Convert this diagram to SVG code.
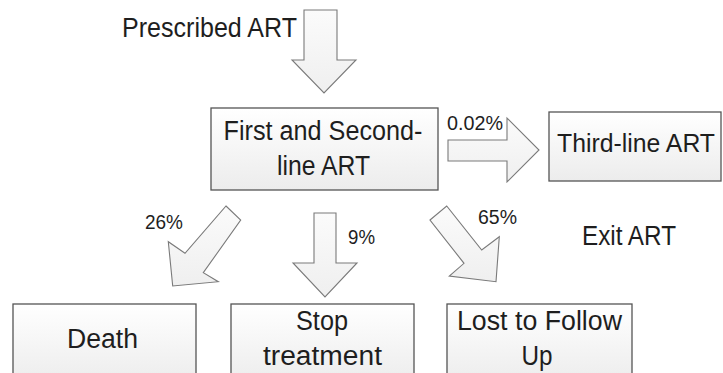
<svg xmlns="http://www.w3.org/2000/svg" width="723" height="373" viewBox="0 0 723 373">
  <defs>
    <linearGradient id="boxFill" x1="0" y1="0" x2="0" y2="1">
      <stop offset="0" stop-color="#ffffff"/>
      <stop offset="1" stop-color="#ececec"/>
    </linearGradient>
    <linearGradient id="arrowFill" x1="0" y1="0" x2="0" y2="1">
      <stop offset="0" stop-color="#fbfbfb"/>
      <stop offset="1" stop-color="#efefef"/>
    </linearGradient>
  </defs>
  <style>
    .box { fill: url(#boxFill); stroke: #555555; stroke-width: 1.3; }
    .arrow { fill: url(#arrowFill); stroke: #7a7a7a; stroke-width: 1.1; stroke-linejoin: miter; }
    .lbl { font-family: "Liberation Sans", Arial, sans-serif; font-size: 27px; fill: #1e1e1e; }
    .pct { font-family: "Liberation Sans", Arial, sans-serif; font-size: 20px; fill: #1e1e1e; }
    .mid { text-anchor: middle; }
  </style>
  <rect x="0" y="0" width="723" height="373" fill="#ffffff"/>

  <g id="prescribed">
    <text class="lbl mid" x="209.5" y="37" textLength="175" lengthAdjust="spacingAndGlyphs">Prescribed ART</text>
  </g>

  <g id="first-second">
    <rect class="box" x="211" y="108" width="227" height="82"/>
    <text class="lbl mid" x="323" y="140" textLength="199" lengthAdjust="spacingAndGlyphs">First and Second-</text>
    <text class="lbl mid" x="323.5" y="175" textLength="93" lengthAdjust="spacingAndGlyphs">line ART</text>
  </g>

  <g id="third-line">
    <rect class="box" x="549" y="112" width="172" height="69"/>
    <text class="lbl" x="557" y="152" style="font-size:25px" textLength="158" lengthAdjust="spacingAndGlyphs">Third-line ART</text>
  </g>

  <g id="exit-art">
    <text class="lbl" x="582" y="245" textLength="94" lengthAdjust="spacingAndGlyphs">Exit ART</text>
  </g>

  <g id="death">
    <rect class="box" x="13" y="304" width="183" height="80"/>
    <text class="lbl mid" x="102.5" y="348" textLength="71" lengthAdjust="spacingAndGlyphs">Death</text>
  </g>

  <g id="stop-treatment">
    <rect class="box" x="231" y="304" width="183" height="80"/>
    <text class="lbl mid" x="322" y="330" textLength="52" lengthAdjust="spacingAndGlyphs">Stop</text>
    <text class="lbl mid" x="322.5" y="365" textLength="119" lengthAdjust="spacingAndGlyphs">treatment</text>
  </g>

  <g id="lost-follow-up">
    <rect class="box" x="447" y="304" width="185" height="80"/>
    <text class="lbl mid" x="539.5" y="330" textLength="165" lengthAdjust="spacingAndGlyphs">Lost to Follow</text>
    <text class="lbl mid" x="537" y="365" textLength="31" lengthAdjust="spacingAndGlyphs">Up</text>
  </g>

  <g id="connectors">
    <polygon class="arrow" points="304,10 337,10 337,60 356,60 324,93 292,60 304,60"/>
    <polygon class="arrow" points="448,140 507,140 507,118 539,150 507,182 507,161 448,161"/>
    <text class="pct" x="447" y="130" textLength="56" lengthAdjust="spacingAndGlyphs">0.02%</text>
    <polygon class="arrow" points="226,206 240.7,220 203.3,272.7 218.3,281.7 172.7,286 168.3,241.7 185,253.3"/>
    <text class="pct" x="145" y="229" textLength="38" lengthAdjust="spacingAndGlyphs">26%</text>
    <polygon class="arrow" points="314,213 336,213 336,263 357,263 325,297 293,263 314,263"/>
    <text class="pct" x="348" y="244" textLength="27" lengthAdjust="spacingAndGlyphs">9%</text>
    <polygon class="arrow" points="430,220 446.7,206 481.7,250 499.3,236.7 496,281.7 449.3,276 464,263.3"/>
    <text class="pct" x="478" y="224" textLength="39" lengthAdjust="spacingAndGlyphs">65%</text>
  </g>
</svg>
